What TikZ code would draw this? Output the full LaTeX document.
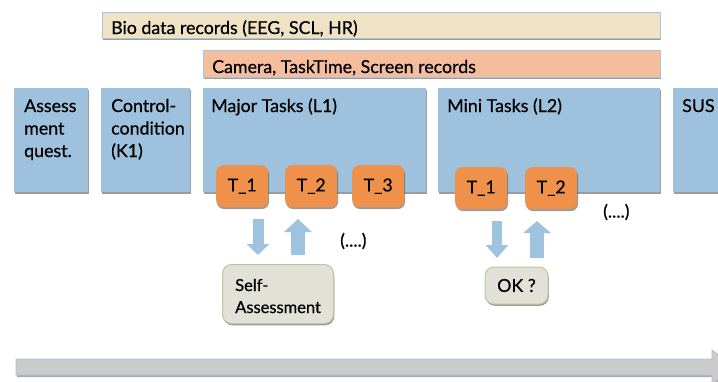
\documentclass[tikz,border=0pt]{standalone}
\usepackage{fontspec}
\setmainfont{Lato}[FakeBold=0.6]
\usetikzlibrary{shadows,arrows.meta}
\definecolor{boxblue}{HTML}{9EC2DD}
\definecolor{biobeige}{HTML}{F0E2C4}
\definecolor{camsalmon}{HTML}{F4BD9E}
\definecolor{taskorange}{HTML}{F0914B}
\definecolor{selffill}{HTML}{E1E1D7}
\definecolor{selfborder}{HTML}{BCC79B}
\definecolor{barborder}{HTML}{A9C3DA}
\definecolor{bargray}{HTML}{CBCBCB}
\definecolor{arrowblue}{HTML}{9DC3DE}
\tikzset{
  shad/.style={drop shadow={shadow xshift=0.8pt, shadow yshift=-1.8pt, fill=black!70, opacity=0.55}},
  bar/.style={anchor=north west, inner sep=0pt, shad, draw=barborder, line width=0.5pt},
  bluebox/.style={anchor=north west, inner sep=0pt, fill=boxblue, shad},
  taskbox/.style={rounded corners=7pt, fill=taskorange, shad, minimum width=52pt, minimum height=42pt, inner sep=0pt, anchor=north west},
  checkbox/.style={rounded corners=9pt, fill=selffill, draw=selfborder, line width=1pt, shad, inner sep=0pt, anchor=north west},
  txt/.style={inner sep=0pt, align=left, anchor=base west},
  blockarrow/.style={draw=arrowblue},
}
\begin{document}
\begin{tikzpicture}[x=1pt,y=-1pt, font=\fontsize{17.8}{22.5}\selectfont]
\clip (0,0) rectangle (718,381);
\fill[white] (0,0) rectangle (718,381);
% top bars
\node[bar, fill=biobeige, minimum width=558pt, minimum height=26pt] (bio) at (102,12) {};
\node[txt] (biotxt) at (111,34) {Bio data records (EEG, SCL, HR)};
\node[bar, fill=camsalmon, minimum width=457pt, minimum height=27pt] (cam) at (203,50) {};
\node[txt] (camtxt) at (212,73) {Camera, TaskTime, Screen records};
% blue phase boxes
\node[bluebox, minimum width=74pt, minimum height=104pt] (assess) at (14,88) {};
\node[txt] (assesstxt) at (24,157) {Assess\\ment\\quest.};
\node[bluebox, minimum width=89pt, minimum height=104pt] (control) at (101,88) {};
\node[txt] (controltxt) at (111,157) {Control-\\condition\\(K1)};
\node[bluebox, minimum width=223pt, minimum height=104pt] (major) at (203,88) {};
\node[txt] (majortxt) at (211,112) {Major Tasks (L1)};
\node[bluebox, minimum width=222pt, minimum height=104pt] (mini) at (438,88) {};
\node[txt] (minitxt) at (447,112) {Mini Tasks (L2)};
\node[bluebox, minimum width=60pt, minimum height=104pt] (sus) at (673,88) {};
\node[txt] (sustxt) at (682,112) {SUS};
% task boxes
\node[taskbox] (mt1) at (216,165) {T\_1};
\node[taskbox] (mt2) at (285,165) {T\_2};
\node[taskbox] (mt3) at (352,165) {T\_3};
\node[taskbox] (nt1) at (455,167) {T\_1};
\node[taskbox] (nt2) at (525,167) {T\_2};
% check boxes
\node[checkbox, minimum width=111pt, minimum height=59pt] (self) at (222,264) {};
\node[txt, font=\fontsize{16.5}{22}\selectfont] (selftxt) at (235,313) {Self-\\Assessment};
\node[checkbox, minimum width=63pt, minimum height=37pt, anchor=center] (ok) at (516.5,285.5) {OK ?};
% ellipses
\node[inner sep=0pt, anchor=west] (dots1) at (340,241) {(....)};
\node[inner sep=0pt, anchor=west] (dots2) at (603,212) {(....)};
% block arrows
\coordinate (a1s) at (258,219); \coordinate (a1e) at (258,255);
\coordinate (a2s) at (298,255); \coordinate (a2e) at (298,219);
\coordinate (a3s) at (497,221); \coordinate (a3e) at (497,258);
\coordinate (a4s) at (537,258); \coordinate (a4e) at (537,221);
\draw[blockarrow, line width=11pt, -{Triangle[width=22pt,length=11pt]}] (a1s) -- (a1e);
\draw[blockarrow, line width=14pt, -{Triangle[width=27pt,length=13pt]}] (a2s) -- (a2e);
\draw[blockarrow, line width=10pt, -{Triangle[width=22pt,length=13pt]}] (a3s) -- (a3e);
\draw[blockarrow, line width=14pt, -{Triangle[width=27pt,length=12pt]}] (a4s) -- (a4e);
% time arrow
\fill[black!55, opacity=0.6] (17,361) -- (713,361) -- (713,352) -- (737,369) -- (713,386) -- (713,377) -- (17,377) -- cycle;
\filldraw[fill=bargray, draw=barborder, line width=0.6pt] (16,359) -- (712,359) -- (712,350) -- (736,367) -- (712,384) -- (712,375) -- (16,375) -- cycle;
\end{tikzpicture}
\end{document}
